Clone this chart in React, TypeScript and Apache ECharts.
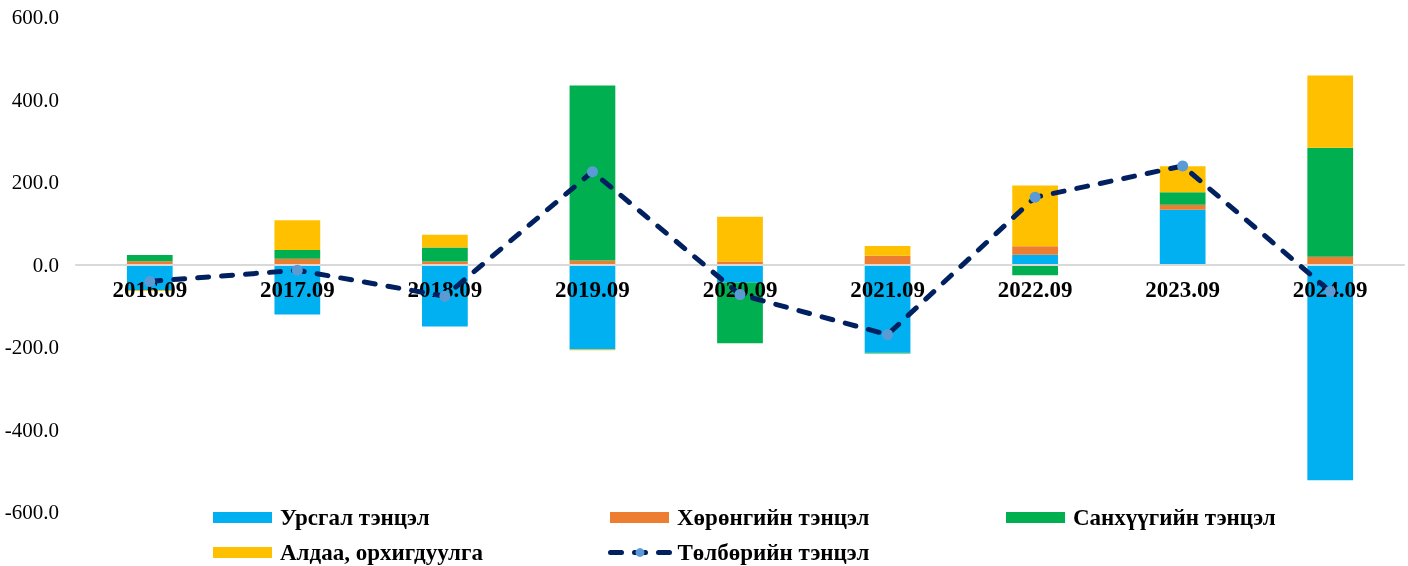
import React, { useEffect, useRef } from "react";
import * as echarts from "echarts";

const categories = ["2016.09", "2017.09", "2018.09", "2019.09", "2020.09", "2021.09", "2022.09", "2023.09", "2024.09"];
const currentAccount = [-62, -121, -150, -206, -44, -214, 23.5, 133, -523];
const capitalAccount = [8, 14, 7, 10, 7, 21, 21, 12, 19];
const financialAccount = [15, 21, 34, 424, -147, -2, -26, 30, 264];
const errorsOmissions = [-2, 72, 31, -2, 109, 24, 147, 63, 175];
const balanceOfPayments = [-41, -14, -77, 225, -73, -170, 163, 239, -65];

const seriesNames = ["Урсгал тэнцэл", "Хөрөнгийн тэнцэл", "Санхүүгийн тэнцэл", "Алдаа, орхигдуулга", "Төлбөрийн тэнцэл"];
const yTicks = { min: -600, max: 600, interval: 200 };

const FONT = "'Liberation Serif', 'Times New Roman', serif";

export default function App() {
  const ref = useRef<HTMLDivElement>(null);
  useEffect(() => {
    if (!ref.current) return;
    const chart = echarts.init(ref.current, null, { renderer: "svg" });
    const legendText = { fontFamily: FONT, fontWeight: "bold", fontSize: 23, color: "#000", padding: [0, 0, 0, 3] };
    const legendPos = [
      { left: 213, top: 506 },
      { left: 610, top: 506 },
      { left: 1006, top: 506 },
      { left: 213, top: 541 },
      { left: 608, top: 541 },
    ];
    const barColors = ["#00B0F0", "#ED7D31", "#00B050", "#FFC000"];
    const barData = [currentAccount, capitalAccount, financialAccount, errorsOmissions];
    chart.setOption({
      animation: false,
      grid: { left: 76, right: 4, top: 17, bottom: 54 },
      legend: seriesNames.map((n, i) => ({
        data: i < 4 ? [{ name: n, icon: "rect" }] : [n],
        left: legendPos[i].left,
        top: legendPos[i].top,
        padding: 0,
        itemWidth: 59,
        itemHeight: 11,
        selectedMode: false,
        textStyle: legendText,
        lineStyle: { width: 5 },
      })),
      xAxis: {
        type: "category",
        data: categories,
        z: 3,
        axisLine: { onZero: true, lineStyle: { color: "#D9D9D9", width: 2 } },
        axisTick: { show: false },
        axisLabel: { fontFamily: FONT, fontWeight: "bold", fontSize: 23, color: "#000", margin: -234 },
      },
      yAxis: {
        type: "value",
        min: yTicks.min,
        max: yTicks.max,
        interval: yTicks.interval,
        splitLine: { show: false },
        axisLine: { show: false },
        axisTick: { show: false },
        axisLabel: {
          fontFamily: FONT,
          fontSize: 21,
          color: "#000",
          margin: 17,
          formatter: (v: number) => v.toFixed(1),
        },
      },
      series: [
        ...barData.map((d, i) => ({
          name: seriesNames[i],
          type: "bar",
          stack: "total",
          barWidth: "31%",
          z: 2,
          itemStyle: { color: barColors[i] },
          data: d,
        })),
        {
          name: seriesNames[4],
          type: "line",
          z: 5,
          data: balanceOfPayments,
          symbol: "circle",
          symbolSize: 11,
          itemStyle: { color: "#5B9BD5" },
          lineStyle: { color: "#002060", width: 5, type: [11, 13], cap: "round" },
        },
      ],
    });
    return () => chart.dispose();
  }, []);
  return <div ref={ref} style={{ position: "fixed", left: 0, top: 0, width: 1408, height: 566 }} />;
}
